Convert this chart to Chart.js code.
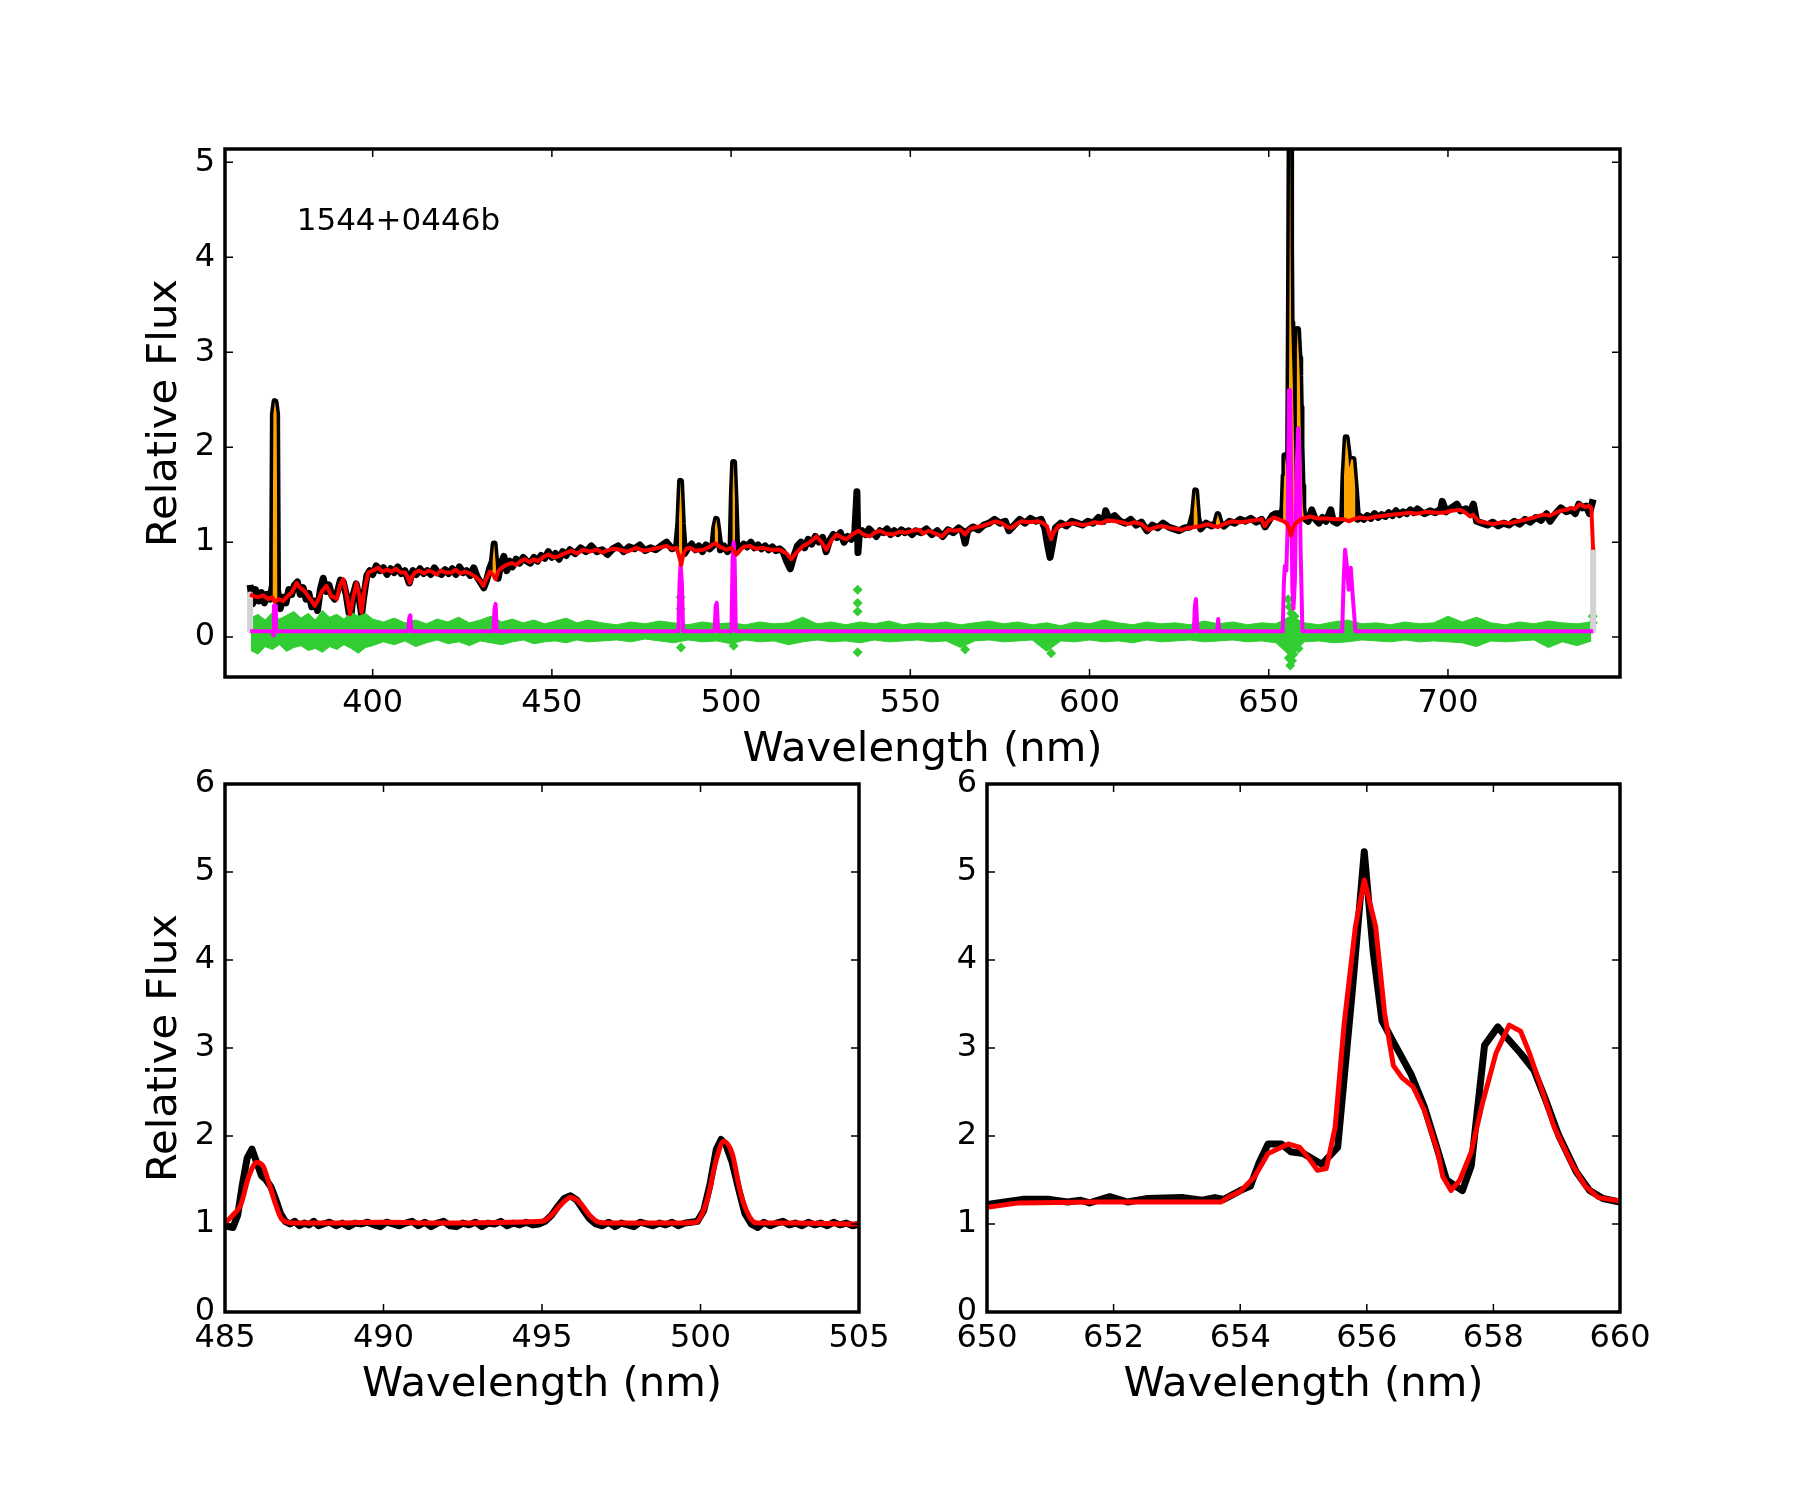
<!DOCTYPE html>
<html>
<head>
  <title>1544+0446b spectrum</title>
  <script src="https://cdn.jsdelivr.net/npm/chart.js"></script>
  <style>
    body { margin: 0; background: #fff; }
    #wrap { position: relative; width: 1800px; height: 1500px; }
    canvas { position: absolute; }
  </style>
</head>
<body>
<div id="wrap">
  <canvas id="top" width="1800" height="780" style="left:0px;top:0px"></canvas>
  <canvas id="hb" width="920" height="680" style="left:0px;top:744px"></canvas>
  <canvas id="ha" width="900" height="680" style="left:900px;top:744px"></canvas>
</div>
<script>
  const objectName = '1544+0446b';

  // ---- top panel: full spectrum ----
  // observed spectrum (black)
  const topWl = [
    365.8, 366.5, 367.3, 368.2, 369.0, 369.8, 370.6, 371.4, 372.05, 372.3, 372.75, 373.2, 373.45, 374.2, 375.0, 375.8, 376.6, 377.4, 378.2, 379.0,
    379.8, 380.6, 381.4, 382.2, 383.0, 383.8, 384.6, 385.4, 386.2, 387.0, 387.8, 388.6, 389.4, 390.2, 391.0, 391.8, 392.6, 393.4, 393.9, 394.6,
    395.4, 396.2, 396.9, 397.6, 398.4, 399.2, 400.0, 401.0, 402.0, 403.0, 404.0, 405.0, 406.0, 407.0, 408.0, 409.0, 410.2, 411.2, 412.2, 413.2,
    414.2, 415.2, 416.2, 417.2, 418.2, 419.2, 420.2, 421.2, 422.2, 423.2, 424.2, 425.2, 426.2, 427.2, 428.2, 429.2, 430.2, 431.0, 431.8, 432.6,
    433.4, 433.9, 434.4, 435.0, 435.8, 436.6, 437.4, 438.2, 439.0, 440.0, 441.0, 442.0, 443.0, 444.0, 445.0, 446.0, 447.0, 448.0, 449.0, 450.0,
    451.0, 452.0, 453.0, 454.0, 455.0, 456.5, 458.0, 459.5, 461.0, 462.5, 464.0, 465.5, 467.0, 468.5, 470.0, 471.5, 473.0, 474.5, 476.0, 477.5,
    479.0, 480.5, 482.0, 483.5, 484.8, 485.4, 485.9, 486.4, 487.0, 488.0, 489.0, 490.0, 491.0, 492.0, 493.0, 494.0, 494.9, 495.4, 495.9, 496.4,
    497.0, 498.0, 499.0, 500.0, 500.35, 500.7, 501.1, 501.6, 502.5, 503.5, 504.5, 505.5, 506.5, 507.5, 508.5, 509.5, 510.5, 511.5, 512.5, 513.5,
    514.5, 515.5, 516.5, 517.5, 518.5, 519.5, 520.5, 521.5, 522.5, 523.5, 524.5, 525.5, 526.5, 527.5, 528.5, 529.5, 530.5, 531.5, 532.5, 533.5,
    534.5, 535.1, 535.4, 535.8, 536.5, 537.5, 538.5, 539.5, 540.5, 541.5, 542.5, 543.5, 544.5, 545.5, 546.5, 547.5, 548.5, 549.5, 550.5, 551.5,
    553.0, 554.5, 556.0, 557.5, 559.0, 560.5, 562.0, 563.5, 564.5, 565.3, 566.0, 567.5, 569.0, 570.5, 572.0, 573.5, 575.0, 576.5, 577.5, 579.0,
    580.5, 582.0, 583.5, 585.0, 586.5, 587.5, 588.4, 589.0, 589.6, 590.5, 592.0, 593.5, 595.0, 596.5, 598.0, 599.5, 601.0, 602.5, 604.0, 604.5,
    605.5, 607.0, 608.5, 610.0, 611.5, 613.0, 614.5, 616.0, 617.5, 619.0, 620.5, 622.0, 623.5, 625.0, 626.5, 628.0, 629.0, 629.6, 630.2, 631.0,
    632.5, 634.0, 635.2, 635.8, 636.5, 637.5, 639.0, 640.5, 642.0, 643.5, 645.0, 646.5, 648.0, 649.0, 650.0, 651.0, 652.0, 653.0, 653.7, 654.0,
    654.3, 654.5, 654.8, 655.3, 655.55, 655.8, 655.96, 656.1, 656.25, 656.45, 656.7, 656.9, 657.1, 657.3, 657.5, 657.65, 657.85, 658.05, 658.2, 658.45,
    658.65, 658.8, 659.0, 659.3, 659.5, 659.7, 660.0, 661.0, 662.0, 663.0, 664.0, 665.0, 666.0, 667.3, 668.0, 669.0, 670.0, 670.6, 671.0, 671.6,
    672.1, 672.5, 673.0, 673.5, 674.2, 674.8, 675.5, 676.5, 677.5, 678.5, 679.5, 680.5, 681.5, 682.5, 683.5, 684.5, 685.5, 686.5, 687.5, 688.5,
    689.5, 690.5, 691.5, 692.5, 693.5, 695.0, 696.5, 698.0, 698.4, 699.5, 701.0, 702.5, 703.5, 705.0, 706.0, 707.1, 708.0, 709.5, 711.0, 712.5,
    714.0, 715.5, 717.0, 718.5, 720.0, 721.5, 723.0, 724.5, 726.0, 727.5, 728.5, 730.0, 731.5, 733.0, 734.5, 735.5, 736.5, 737.5, 738.5, 739.5,
    740.5
  ];
  const topFlux = [
    0.55, 0.35, 0.50, 0.38, 0.47, 0.36, 0.45, 0.40, 0.55, 2.35, 2.48, 2.35, 0.50, 0.30, 0.42, 0.36, 0.50, 0.45, 0.55, 0.58,
    0.45, 0.52, 0.40, 0.46, 0.32, 0.38, 0.28, 0.50, 0.62, 0.48, 0.55, 0.44, 0.40, 0.48, 0.60, 0.58, 0.45, 0.26, 0.22, 0.45,
    0.56, 0.42, 0.24, 0.45, 0.65, 0.70, 0.66, 0.75, 0.70, 0.73, 0.66, 0.72, 0.68, 0.74, 0.67, 0.70, 0.57, 0.70, 0.66, 0.72,
    0.67, 0.70, 0.66, 0.73, 0.68, 0.66, 0.71, 0.67, 0.72, 0.66, 0.74, 0.68, 0.70, 0.65, 0.73, 0.63, 0.57, 0.52, 0.60, 0.72,
    0.80, 0.98, 0.75, 0.62, 0.78, 0.85, 0.70, 0.80, 0.74, 0.82, 0.78, 0.84, 0.80, 0.78, 0.84, 0.80, 0.86, 0.83, 0.90, 0.84,
    0.88, 0.82, 0.90, 0.86, 0.92, 0.88, 0.94, 0.90, 0.96, 0.90, 0.92, 0.87, 0.93, 0.96, 0.90, 0.95, 0.93, 0.97, 0.91, 0.94,
    0.92, 0.96, 1.00, 0.93, 0.95, 1.20, 1.64, 1.20, 0.88, 0.94, 0.98, 0.92, 0.96, 0.90, 0.97, 0.93, 0.96, 1.15, 1.24, 1.10,
    0.92, 0.96, 0.90, 0.96, 1.50, 1.84, 1.45, 0.90, 0.94, 0.98, 0.95, 1.00, 0.94, 0.97, 0.93, 0.96, 0.92, 0.95, 0.91, 0.93,
    0.90, 0.80, 0.72, 0.85, 0.96, 1.00, 0.94, 1.03, 0.98, 1.06, 1.00, 1.05, 0.90, 1.02, 1.08, 1.05, 1.10, 1.00, 1.06, 1.03,
    1.10, 1.53, 0.89, 1.10, 1.12, 1.08, 1.14, 1.10, 1.06, 1.12, 1.10, 1.14, 1.08, 1.12, 1.09, 1.13, 1.10, 1.12, 1.08, 1.12,
    1.10, 1.14, 1.08, 1.12, 1.06, 1.13, 1.10, 1.15, 1.12, 0.99, 1.12, 1.16, 1.13, 1.18, 1.20, 1.24, 1.20, 1.22, 1.12, 1.18,
    1.24, 1.20, 1.25, 1.22, 1.24, 1.15, 0.95, 0.84, 0.96, 1.15, 1.20, 1.17, 1.22, 1.20, 1.18, 1.22, 1.20, 1.26, 1.22, 1.33,
    1.24, 1.28, 1.22, 1.20, 1.24, 1.18, 1.21, 1.12, 1.18, 1.15, 1.20, 1.16, 1.14, 1.12, 1.15, 1.16, 1.30, 1.54, 1.25, 1.14,
    1.20, 1.17, 1.20, 1.29, 1.20, 1.17, 1.22, 1.20, 1.24, 1.22, 1.25, 1.21, 1.24, 1.16, 1.22, 1.28, 1.30, 1.30, 1.28, 1.38,
    1.70, 1.91, 1.82, 1.68, 1.87, 3.72, 5.23, 4.10, 3.31, 3.03, 2.70, 2.33, 1.91, 1.50, 1.38, 1.66, 3.03, 3.24, 3.12, 2.94,
    2.75, 2.42, 2.01, 1.59, 1.38, 1.29, 1.25, 1.22, 1.34, 1.24, 1.20, 1.26, 1.22, 1.34, 1.22, 1.20, 1.23, 1.25, 1.70, 2.10,
    1.95, 1.78, 1.87, 1.87, 1.55, 1.24, 1.27, 1.24, 1.28, 1.25, 1.30, 1.26, 1.29, 1.27, 1.31, 1.28, 1.33, 1.29, 1.32, 1.30,
    1.34, 1.31, 1.35, 1.32, 1.30, 1.33, 1.31, 1.35, 1.43, 1.32, 1.36, 1.40, 1.33, 1.35, 1.30, 1.40, 1.22, 1.20, 1.18, 1.21,
    1.17, 1.20, 1.18, 1.22, 1.19, 1.24, 1.21, 1.26, 1.23, 1.30, 1.22, 1.30, 1.36, 1.32, 1.34, 1.30, 1.40, 1.36, 1.38, 1.30,
    1.45
  ];

  // best-fit model (red)
  const modelWl = [
    365.8, 366.8, 368.1, 369.5, 370.9, 372.0, 372.7, 373.8, 375.1, 376.2, 377.4, 378.8, 379.7, 380.6, 381.3, 382.0, 383.0, 383.9, 384.9, 385.8,
    387.1, 388.0, 388.5, 389.3, 390.0, 390.9, 391.8, 392.7, 393.7, 394.6, 395.5, 396.2, 396.9, 397.8, 398.8, 400.0, 401.6, 402.7, 404.0, 405.3,
    406.5, 407.8, 409.0, 409.8, 410.4, 411.0, 411.8, 413.0, 414.3, 415.5, 416.5, 417.8, 419.0, 420.5, 422.0, 423.2, 424.4, 425.7, 427.2, 428.5,
    429.8, 430.9, 431.8, 432.7, 433.5, 434.3, 435.1, 436.0, 437.3, 438.8, 440.0, 441.3, 442.5, 443.8, 445.0, 446.2, 447.5, 449.0, 450.4, 451.8,
    453.5, 455.5, 457.0, 458.8, 460.5, 462.5, 464.0, 465.3, 467.0, 469.0, 471.0, 473.6, 475.5, 477.4, 479.5, 482.0, 483.5, 484.8, 485.5, 486.1,
    486.7, 487.5, 488.5, 490.0, 492.2, 494.0, 495.5, 497.0, 498.7, 500.0, 501.5, 502.5, 503.5, 505.2, 507.0, 508.9, 511.0, 513.6, 515.5, 516.8,
    518.0, 520.1, 522.0, 523.8, 525.2, 526.6, 528.0, 529.4, 530.8, 532.2, 533.8, 535.5, 537.0, 538.7, 540.0, 541.5, 543.0, 545.2, 547.0, 548.9,
    550.5, 552.6, 553.5, 555.1, 557.0, 558.8, 560.7, 562.5, 564.0, 565.3, 566.5, 568.5, 570.0, 571.5, 573.7, 575.5, 577.0, 578.2, 580.0, 581.1,
    583.0, 585.7, 587.0, 588.1, 589.3, 590.0, 591.3, 593.5, 596.0, 598.0, 599.7, 601.5, 603.4, 605.0, 607.1, 609.0, 610.8, 612.5, 614.5, 616.4,
    618.0, 620.1, 622.5, 625.7, 627.5, 629.4, 631.0, 633.1, 634.5, 635.9, 637.5, 639.6, 642.0, 644.3, 646.0, 648.0, 648.9, 649.8, 651.4, 652.8,
    654.1, 655.0, 655.7, 656.2, 656.8, 657.5, 658.3, 659.5, 661.6, 663.5, 666.2, 668.5, 670.9, 672.5, 673.5, 675.5, 677.5, 680.2, 682.5, 684.8,
    687.0, 689.4, 691.5, 694.1, 696.5, 698.7, 701.0, 703.4, 704.5, 706.2, 707.0, 708.5, 710.0, 712.7, 715.0, 717.3, 719.5, 721.9, 724.0, 726.6,
    728.5, 731.3, 733.0, 734.1, 735.5, 736.8, 738.2, 739.4, 740.0, 740.5
  ];
  const modelFlux = [
    0.45, 0.43, 0.42, 0.44, 0.40, 0.42, 0.37, 0.40, 0.38, 0.43, 0.47, 0.57, 0.52, 0.50, 0.47, 0.43, 0.38, 0.33, 0.40, 0.48,
    0.54, 0.47, 0.43, 0.42, 0.40, 0.55, 0.61, 0.45, 0.24, 0.42, 0.57, 0.45, 0.26, 0.52, 0.68, 0.70, 0.73, 0.69, 0.71, 0.69,
    0.72, 0.68, 0.68, 0.63, 0.57, 0.64, 0.68, 0.70, 0.67, 0.70, 0.69, 0.66, 0.70, 0.68, 0.68, 0.71, 0.67, 0.69, 0.67, 0.64,
    0.60, 0.54, 0.62, 0.69, 0.66, 0.61, 0.70, 0.73, 0.76, 0.78, 0.76, 0.80, 0.82, 0.79, 0.82, 0.80, 0.84, 0.87, 0.84, 0.85,
    0.88, 0.91, 0.88, 0.92, 0.90, 0.92, 0.89, 0.91, 0.93, 0.92, 0.90, 0.94, 0.91, 0.92, 0.94, 0.96, 0.93, 0.94, 0.85, 0.76,
    0.88, 0.93, 0.94, 0.91, 0.92, 0.95, 0.99, 0.95, 0.92, 0.94, 0.87, 0.92, 0.95, 0.96, 0.93, 0.94, 0.92, 0.92, 0.88, 0.82,
    0.88, 0.96, 1.00, 1.06, 1.00, 0.92, 1.02, 1.08, 1.05, 1.03, 1.08, 1.12, 1.08, 1.06, 1.10, 1.12, 1.09, 1.08, 1.11, 1.10,
    1.12, 1.13, 1.09, 1.12, 1.09, 1.06, 1.13, 1.12, 1.13, 1.08, 1.14, 1.16, 1.17, 1.19, 1.22, 1.20, 1.16, 1.15, 1.20, 1.22,
    1.21, 1.22, 1.20, 1.17, 1.03, 1.10, 1.17, 1.19, 1.20, 1.18, 1.19, 1.21, 1.20, 1.23, 1.22, 1.21, 1.19, 1.21, 1.19, 1.13,
    1.15, 1.17, 1.15, 1.13, 1.15, 1.16, 1.17, 1.19, 1.17, 1.16, 1.19, 1.22, 1.21, 1.22, 1.23, 1.24, 1.17, 1.22, 1.26, 1.24,
    1.22, 1.20, 1.14, 1.07, 1.15, 1.20, 1.22, 1.25, 1.27, 1.25, 1.25, 1.24, 1.24, 1.22, 1.24, 1.26, 1.25, 1.27, 1.28, 1.29,
    1.30, 1.31, 1.30, 1.32, 1.31, 1.31, 1.33, 1.34, 1.32, 1.27, 1.29, 1.22, 1.21, 1.19, 1.21, 1.20, 1.22, 1.24, 1.26, 1.29,
    1.28, 1.33, 1.34, 1.36, 1.35, 1.40, 1.37, 1.38, 1.36, 0.92
  ];

  // emission-line component (magenta)
  const gasWl = [
    365.8, 372.1, 372.25, 372.45, 372.75, 373.0, 409.9, 410.2, 410.5, 410.8, 433.7, 434.0, 434.3, 434.6, 485.3, 485.6, 485.9, 486.3, 486.6, 495.4,
    495.7, 496.0, 496.4, 500.1, 500.4, 500.7, 501.0, 501.3, 629.1, 629.4, 629.7, 630.1, 635.6, 635.9, 636.2, 653.9, 654.2, 654.5, 654.9, 655.3,
    655.6, 656.0, 656.3, 656.6, 656.9, 657.3, 657.8, 658.2, 658.5, 658.9, 659.4, 670.5, 670.9, 671.3, 671.8, 672.3, 672.9, 673.5, 674.2, 740.5
  ];
  const gasFlux = [
    0.063, 0.063, 0.02, 0.33, 0.33, 0.063, 0.063, 0.20, 0.23, 0.063, 0.063, 0.30, 0.35, 0.063, 0.063, 0.55, 0.77, 0.55, 0.063, 0.063,
    0.33, 0.36, 0.063, 0.063, 0.80, 1.00, 0.80, 0.063, 0.063, 0.33, 0.40, 0.063, 0.063, 0.19, 0.063, 0.063, 0.55, 0.75, 0.70, 1.20,
    2.60, 2.60, 1.40, 0.50, 0.30, 0.60, 1.80, 2.20, 2.00, 0.90, 0.063, 0.063, 0.60, 0.92, 0.75, 0.50, 0.73, 0.40, 0.063, 0.063
  ];

  // residual band (green): upper / lower envelope
  const residWl = [
    366, 368, 370, 372, 374, 376, 378, 380, 382, 384, 386, 388, 390, 392, 394, 396, 398,
    400, 403, 406, 409, 412, 415, 418, 421, 424, 427, 430, 433, 436, 439, 442, 445, 448, 451, 454, 457, 460,
    464, 468, 472, 476, 480, 484, 488, 492, 496, 500, 504, 508, 512, 516, 520, 524, 528, 532, 536, 540,
    544, 548, 552, 556, 560, 564, 568, 572, 576, 580, 584, 588, 592, 596, 600, 604, 608, 612, 616, 620,
    624, 628, 632, 636, 640, 644, 648, 652, 656, 660, 664, 668, 672, 676, 680, 684, 688, 692, 696, 700,
    704, 708, 712, 716, 720, 724, 728, 732, 736, 740
  ];
  const residHi = [
    0.20, 0.24, 0.18, 0.26, 0.19, 0.23, 0.27, 0.20, 0.25, 0.18, 0.28, 0.21, 0.24, 0.19, 0.26, 0.22, 0.25,
    0.19, 0.16, 0.20, 0.15, 0.18, 0.14, 0.19, 0.16, 0.21, 0.15, 0.18, 0.22, 0.16, 0.19, 0.15, 0.18, 0.14, 0.17, 0.20, 0.15, 0.18,
    0.15, 0.13, 0.16, 0.14, 0.17, 0.15, 0.13, 0.16, 0.14, 0.15, 0.13, 0.16, 0.14, 0.15, 0.21, 0.14, 0.16, 0.13, 0.16, 0.14,
    0.17, 0.13, 0.15, 0.14, 0.16, 0.13, 0.15, 0.17, 0.14, 0.16, 0.13, 0.15, 0.12, 0.16, 0.14, 0.18, 0.15, 0.13, 0.16, 0.14,
    0.15, 0.13, 0.17, 0.14, 0.16, 0.13, 0.15, 0.14, 0.22, 0.15, 0.13, 0.16, 0.18, 0.14, 0.15, 0.13, 0.16, 0.14, 0.15, 0.22,
    0.16, 0.21, 0.15, 0.13, 0.16, 0.14, 0.17, 0.15, 0.14, 0.16
  ];
  const residLo = [
    -0.14, -0.18, -0.10, -0.13, -0.08, -0.15, -0.11, -0.09, -0.14, -0.12, -0.16, -0.10, -0.13, -0.08, -0.12, -0.17, -0.11,
    -0.09, -0.05, -0.08, -0.04, -0.10, -0.06, -0.03, -0.07, -0.05, -0.09, -0.04, -0.06, -0.08, -0.05, -0.03, -0.07, -0.05, -0.04, -0.06, -0.03, -0.05,
    -0.04, -0.03, -0.05, -0.02, -0.04, -0.06, -0.03, -0.05, -0.04, -0.07, -0.03, -0.05, -0.04, -0.08, -0.05, -0.03, -0.05, -0.04, -0.06, -0.03,
    -0.05, -0.04, -0.03, -0.05, -0.04, -0.11, -0.04, -0.03, -0.05, -0.04, -0.03, -0.15, -0.04, -0.05, -0.03, -0.05, -0.04, -0.06, -0.03, -0.05,
    -0.04, -0.03, -0.05, -0.04, -0.03, -0.05, -0.04, -0.06, -0.20, -0.05, -0.04, -0.06, -0.05, -0.03, -0.04, -0.05, -0.03, -0.05, -0.04, -0.05,
    -0.06, -0.10, -0.04, -0.05, -0.04, -0.03, -0.11, -0.05, -0.09, -0.04
  ];
  // stray residual points (green diamonds)
  const strayWl = [485.9, 485.9, 486.0, 500.7, 535.3, 535.3, 535.3, 535.3, 565.3, 589.3, 655.4, 655.8, 656.3, 655.6, 656.0, 656.5, 656.9, 657.2, 658.3, 740.4, 740.4];
  const strayVal = [0.42, 0.30, -0.11, -0.09, 0.50, 0.36, 0.27, -0.16, -0.13, -0.17, 0.40, 0.32, 0.25, -0.22, -0.30, -0.25, -0.18, 0.22, -0.12, 0.15, 0.22];

  // masked ends (light grey)
  const maskWl = [365.8, 740.5];
  const maskTop = [0.45, 0.92];
  const maskBottom = [0.07, 0.07];

  // emission line windows that get the orange fill
  const lineWindows = [[372.0, 373.5], [433.3, 434.5], [485.3, 486.5], [495.3, 496.5], [500.3, 501.2],
                       [628.9, 630.3], [635.1, 636.6], [653.9, 660.0], [670.9, 674.5]];

  const topXTicks = [400, 450, 500, 550, 600, 650, 700];
  const topYTicks = [0, 1, 2, 3, 4, 5];

  // ---- lower left: H-beta / [OIII] ----
  const hbWl = [
    485.0, 485.1, 485.25, 485.4, 485.55, 485.7, 485.85, 486.0, 486.15, 486.3, 486.45, 486.6, 486.75, 486.9, 487.05, 487.2, 487.35, 487.5, 487.65, 487.8,
    487.95, 488.1, 488.3, 488.5, 488.7, 488.9, 489.1, 489.3, 489.5, 489.7, 489.9, 490.1, 490.3, 490.5, 490.7, 490.9, 491.1, 491.3, 491.5, 491.7,
    491.9, 492.1, 492.3, 492.5, 492.7, 492.9, 493.1, 493.3, 493.5, 493.7, 493.9, 494.1, 494.3, 494.5, 494.7, 494.9, 495.1, 495.3, 495.5, 495.7,
    495.9, 496.1, 496.3, 496.5, 496.7, 496.9, 497.1, 497.3, 497.5, 497.7, 497.9, 498.1, 498.3, 498.5, 498.7, 498.9, 499.1, 499.3, 499.5, 499.7,
    499.9, 500.1, 500.3, 500.5, 500.65, 500.8, 501.0, 501.2, 501.4, 501.6, 501.8, 502.0, 502.2, 502.4, 502.6, 502.8, 503.0, 503.2, 503.4, 503.6,
    503.8, 504.0, 504.2, 504.4, 504.6, 504.8, 505.0
  ];
  const hbFlux = [
    1.00, 0.97, 0.96, 1.10, 1.45, 1.75, 1.85, 1.70, 1.55, 1.50, 1.42, 1.28, 1.12, 1.03, 1.00, 1.03, 0.98, 1.01, 0.99, 1.03,
    0.98, 1.00, 1.02, 0.98, 1.01, 0.97, 1.01, 1.00, 1.02, 0.99, 0.97, 1.02, 1.00, 0.98, 1.01, 1.03, 0.98, 1.02, 0.97, 1.01,
    1.03, 0.98, 0.97, 1.01, 0.99, 1.02, 0.97, 1.01, 1.00, 1.03, 0.98, 1.01, 0.99, 1.02, 0.99, 1.00, 1.03, 1.10, 1.20, 1.29,
    1.32, 1.27, 1.16, 1.06, 1.00, 0.98, 1.02, 0.97, 1.01, 0.99, 0.97, 1.02, 1.00, 0.98, 1.01, 0.99, 1.02, 0.98, 1.01, 1.02,
    1.03, 1.15, 1.45, 1.85, 1.96, 1.90, 1.70, 1.40, 1.12, 1.00, 0.96, 1.02, 0.98, 1.01, 1.03, 0.99, 1.01, 0.98, 1.02, 0.99,
    1.01, 0.98, 1.02, 0.99, 1.01, 0.98, 1.00
  ];
  const hbModelWl = [485.0, 485.3, 485.5, 485.75, 486.0, 486.2, 486.4, 486.6, 486.8, 487.2, 488.0, 490.0, 492.0, 494.0, 495.0, 495.3, 495.6, 495.9, 496.2, 496.5,
    496.8, 497.5, 499.0, 499.85, 500.2, 500.5, 500.73, 501.0, 501.26, 501.55, 501.8, 503.0, 505.0];
  const hbModel = [1.01, 1.12, 1.22, 1.54, 1.70, 1.66, 1.45, 1.22, 1.05, 1.01, 1.01, 1.02, 1.01, 1.02, 1.03, 1.10, 1.22, 1.30, 1.24, 1.10,
    1.02, 1.01, 1.01, 1.02, 1.26, 1.73, 1.94, 1.80, 1.36, 1.08, 1.01, 1.01, 1.00];
  const hbXTicks = [485, 490, 495, 500, 505];

  // ---- lower right: H-alpha / [NII] ----
  const haWl = [650.0, 650.28, 650.56, 650.99, 651.27, 651.48, 651.62, 651.94, 652.22, 652.54, 653.1, 653.4, 653.6, 653.74, 654.0, 654.16, 654.3, 654.44, 654.65, 654.8,
    655.0, 655.29, 655.54, 655.78, 655.96, 656.1, 656.24, 656.45, 656.7, 656.91, 657.09, 657.26, 657.51, 657.65, 657.86, 658.07, 658.21, 658.43, 658.64, 658.82,
    659.03, 659.31, 659.52, 659.73, 660.0];
  const haFlux = [1.22, 1.25, 1.28, 1.28, 1.25, 1.27, 1.24, 1.31, 1.25, 1.29, 1.30, 1.27, 1.30, 1.28, 1.38, 1.43, 1.70, 1.91, 1.91, 1.82,
    1.80, 1.68, 1.87, 3.72, 5.23, 4.10, 3.31, 3.03, 2.70, 2.33, 1.91, 1.50, 1.38, 1.66, 3.03, 3.24, 3.12, 2.94, 2.75, 2.42,
    2.01, 1.59, 1.38, 1.29, 1.25];
  const haModelWl = [650.0, 650.5, 651.7, 653.7, 653.8, 654.0, 654.23, 654.44, 654.76, 654.94, 655.08, 655.22, 655.36, 655.5, 655.64, 655.82, 655.96, 656.14, 656.28, 656.42,
    656.56, 656.73, 656.91, 657.12, 657.2, 657.33, 657.47, 657.65, 657.83, 658.04, 658.25, 658.43, 658.57, 658.75, 658.96, 659.24, 659.45, 659.66, 660.0];
  const haModel = [1.19, 1.24, 1.25, 1.25, 1.30, 1.37, 1.54, 1.80, 1.91, 1.87, 1.75, 1.61, 1.63, 2.10, 3.26, 4.38, 4.91, 4.38, 3.40, 2.80,
    2.66, 2.56, 2.29, 1.82, 1.54, 1.38, 1.50, 1.82, 2.38, 2.94, 3.26, 3.19, 2.94, 2.56, 2.10, 1.68, 1.43, 1.30, 1.26];
  const haXTicks = [650, 652, 654, 656, 658, 660];
  const lowYTicks = [0, 1, 2, 3, 4, 5, 6];

  Chart.defaults.font.family = '"DejaVu Sans", sans-serif';
  Chart.defaults.color = '#000';

  function pts(xs, ys) {
    return xs.map((x, i) => ({x: x, y: ys[i]}));
  }

  // only the samples inside the emission windows, with gaps between
  function windowPts(xs, ys) {
    const out = [];
    lineWindows.forEach(w => {
      xs.forEach((x, i) => { if (x >= w[0] && x <= w[1]) out.push({x: x, y: ys[i]}); });
      out.push({x: w[1] + 0.01, y: null});
    });
    return out;
  }

  // matplotlib-style box with inward ticks on all four sides
  const frame = {
    id: 'frame',
    afterDatasetsDraw(chart) {
      const ctx = chart.ctx, a = chart.chartArea;
      const xs = chart.scales.x, ys = chart.scales.y;
      const tl = 8;
      ctx.save();
      ctx.strokeStyle = '#000';
      ctx.lineWidth = 1.5;
      ctx.beginPath();
      xs.ticks.forEach(t => {
        const px = xs.getPixelForValue(t.value);
        ctx.moveTo(px, a.bottom); ctx.lineTo(px, a.bottom - tl);
        ctx.moveTo(px, a.top); ctx.lineTo(px, a.top + tl);
      });
      ys.ticks.forEach(t => {
        const py = ys.getPixelForValue(t.value);
        ctx.moveTo(a.left, py); ctx.lineTo(a.left + tl, py);
        ctx.moveTo(a.right, py); ctx.lineTo(a.right - tl, py);
      });
      ctx.stroke();
      ctx.lineWidth = 3.5;
      ctx.strokeRect(a.left, a.top, a.right - a.left, a.bottom - a.top);
      ctx.restore();
    }
  };

  const nameTag = {
    id: 'nameTag',
    afterDatasetsDraw(chart) {
      const ctx = chart.ctx, a = chart.chartArea;
      ctx.save();
      ctx.font = '31px "DejaVu Sans"';
      ctx.fillStyle = '#000';
      ctx.textBaseline = 'alphabetic';
      ctx.fillText(objectName, a.left + 0.0514 * (a.right - a.left), a.top + 0.153 * (a.bottom - a.top));
      ctx.restore();
    }
  };

  function axes(o) {
    return {
      x: {
        type: 'linear', min: o.xMin, max: o.xMax,
        grid: {display: false, drawTicks: false}, border: {display: false},
        afterBuildTicks: s => { s.ticks = o.xTicks.map(v => ({value: v})); },
        afterFit: s => { s.height = o.xH; },
        ticks: {font: {size: 32}, padding: 7.5, maxRotation: 0, autoSkip: false, callback: v => String(v)},
        title: {display: true, text: 'Wavelength (nm)', font: {size: 41.7, lineHeight: 1.2}, padding: {top: 0, bottom: o.xTitlePad}}
      },
      y: {
        type: 'linear', min: o.yMin, max: o.yMax,
        grid: {display: false, drawTicks: false}, border: {display: false},
        afterBuildTicks: s => { s.ticks = o.yTicks.map(v => ({value: v})); },
        afterFit: s => { s.width = o.yW; },
        ticks: {font: {size: 32}, padding: 10, autoSkip: false, callback: v => String(v)},
        title: {display: o.yTitle, text: 'Relative Flux', font: {size: 41.7, lineHeight: 1.2}, padding: {top: 140.6, bottom: 0}}
      }
    };
  }

  const baseOpts = {
    responsive: false,
    animation: false,
    devicePixelRatio: 1,
    plugins: {legend: {display: false}, tooltip: {enabled: false}},
    elements: {point: {radius: 0}, line: {tension: 0, borderJoinStyle: 'round'}}
  };

  // top chart
  new Chart(document.getElementById('top'), {
    type: 'line',
    data: {
      datasets: [
        {data: pts(modelWl, modelFlux), borderColor: '#ff0000', borderWidth: 4, order: 1, clip: 0},
        {data: pts(gasWl, gasFlux), borderColor: '#ff00ff', borderWidth: 4, order: 2, clip: 0},
        {data: pts([maskWl[0], maskWl[0]], [maskTop[0], maskBottom[0]]), borderColor: '#d3d3d3', borderWidth: 6, borderCapStyle: 'butt', order: 3, clip: 0},
        {data: pts([maskWl[1], maskWl[1]], [maskTop[1], maskBottom[1]]), borderColor: '#d3d3d3', borderWidth: 6, borderCapStyle: 'butt', order: 3, clip: 0},
        {data: pts(strayWl, strayVal), showLine: false, pointStyle: 'rectRot', pointRadius: 5, pointBackgroundColor: '#32cd32', pointBorderWidth: 0, order: 4, clip: 0},
        {data: pts(residWl, residHi), borderColor: '#32cd32', borderWidth: 1, backgroundColor: '#32cd32', fill: 6, order: 5, clip: 0},
        {data: pts(residWl, residLo), borderColor: '#32cd32', borderWidth: 1, order: 5, clip: 0},
        {data: windowPts(topWl, topFlux), borderWidth: 0, spanGaps: false,
         fill: {target: 0, above: '#ffa500', below: 'rgba(0,0,0,0)'}, order: 6, clip: 0},
        {data: pts(topWl, topFlux), borderColor: '#000', borderWidth: 7, order: 7, clip: 0}
      ]
    },
    options: Object.assign({}, baseOpts, {
      layout: {padding: {left: 0, top: 149, right: 180, bottom: 0}},
      scales: axes({xMin: 358.8, xMax: 748.0, xTicks: topXTicks, xH: 103, xTitlePad: 5,
                    yMin: -0.42, yMax: 5.14, yTicks: topYTicks, yW: 225, yTitle: true})
    }),
    plugins: [frame, nameTag]
  });

  // H-beta zoom
  new Chart(document.getElementById('hb'), {
    type: 'line',
    data: {
      datasets: [
        {data: pts(hbModelWl, hbModel), borderColor: '#ff0000', borderWidth: 5, cubicInterpolationMode: 'monotone', order: 1, clip: 0},
        {data: pts(hbWl, hbFlux), borderColor: '#000', borderWidth: 7, order: 2, clip: 0}
      ]
    },
    options: Object.assign({}, baseOpts, {
      layout: {padding: {left: 0, top: 40, right: 61, bottom: 0}},
      scales: axes({xMin: 485, xMax: 505, xTicks: hbXTicks, xH: 112, xTitlePad: 14,
                    yMin: 0, yMax: 6, yTicks: lowYTicks, yW: 225, yTitle: true})
    }),
    plugins: [frame]
  });

  // H-alpha zoom
  new Chart(document.getElementById('ha'), {
    type: 'line',
    data: {
      datasets: [
        {data: pts(haModelWl, haModel), borderColor: '#ff0000', borderWidth: 5, order: 1, clip: 0},
        {data: pts(haWl, haFlux), borderColor: '#000', borderWidth: 7, order: 2, clip: 0}
      ]
    },
    options: Object.assign({}, baseOpts, {
      layout: {padding: {left: 0, top: 40, right: 180, bottom: 0}},
      scales: axes({xMin: 650, xMax: 660, xTicks: haXTicks, xH: 112, xTitlePad: 14,
                    yMin: 0, yMax: 6, yTicks: lowYTicks, yW: 87, yTitle: false})
    }),
    plugins: [frame]
  });
</script>
</body>
</html>
